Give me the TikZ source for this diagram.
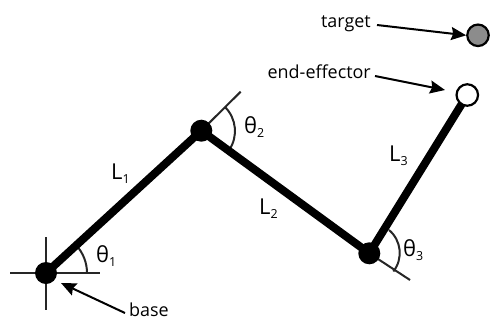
\documentclass[tikz,border=0pt]{standalone}
\usepackage{fontspec}
\setmainfont{Open Sans}
\usetikzlibrary{arrows.meta}
\newcommand{\lowsub}[1]{\raisebox{-4.5bp}{\fontsize{12.5}{14}\selectfont #1}}
\tikzset{
  joint/.style={circle,fill=black,inner sep=0pt,minimum size=22bp},
  tipball/.style={circle,draw=black,line width=2.2bp,inner sep=0pt,minimum size=21.5bp},
  linkbar/.style={line width=8bp},
  thinl/.style={line width=2bp,draw=black!85},
  callout/.style={line width=2bp,-{Stealth[length=15bp,width=13bp,inset=2bp]}},
  lab/.style={inner sep=0pt,font=\fontsize{18}{21}\selectfont},
  biglab/.style={inner sep=0pt,font=\fontsize{22}{25}\selectfont}
}
\begin{document}
\begin{tikzpicture}[x=1bp,y=-1bp]
\useasboundingbox (0,0) rectangle (490,320);
% crosshair ends and reference lines
\coordinate (cl) at (10,273);
\coordinate (cr) at (100,273);
\coordinate (ct) at (46,237);
\coordinate (cb) at (46,310);
\coordinate (ext2) at (240.7,91.7);
\coordinate (ext3) at (410,280);
\coordinate (a1) at (46,273);
\coordinate (a2) at (201.3,130.7);
\coordinate (a3) at (369.3,253.3);
\coordinate (a4) at (467.3,95);
\draw[thinl] (cl) -- (cr);
\draw[thinl] (ct) -- (cb);
\draw[thinl] (a2) -- (ext2);
\draw[thinl] (a3) -- (ext3);
% angle arcs
\draw[thinl] (87,273) arc[start angle=0,delta angle=-42,radius=41];
\draw[thinl] (225,107) arc[start angle=-45,delta angle=79,radius=34];
\draw[thinl] (389,230) arc[start angle=-50,delta angle=88,radius=30];
% links
\draw[linkbar] (a1) -- (a2);
\draw[linkbar] (a2) -- (a3);
\draw[linkbar] (a3) -- (a4);
% joints
\node[joint] (j1) at (a1) {};
\node[joint] (j2) at (a2) {};
\node[joint] (j3) at (a3) {};
\node[tipball,fill=white] (ee) at (a4) {};
\node[tipball,fill=black!45] (tg) at (478,35.3) {};
% labels
\node[lab,anchor=base west] (lbase) at (129,316.5) {base};
\node[lab,anchor=base east] (ltarget) at (371,27) {target};
\node[lab,anchor=base east] (lee) at (371,78) {end-effector};
\node[biglab,anchor=base west] at (111,179) {L\lowsub{1}};
\node[biglab,anchor=base west] at (259,214) {L\lowsub{2}};
\node[biglab,anchor=base west] at (389,161) {L\lowsub{3}};
\node[biglab,anchor=base west] at (96,262) {θ\lowsub{1}};
\node[biglab,anchor=base west] at (244,133) {θ\lowsub{2}};
\node[biglab,anchor=base west] at (403,256) {θ\lowsub{3}};
% callouts
\coordinate (pb) at (61,283);
\coordinate (pe) at (445,90);
\draw[callout] (125,313) -- (pb);
\draw[callout] (377,25) -- (tg.west);
\draw[callout] (375,76) -- (pe);
\end{tikzpicture}
\end{document}
